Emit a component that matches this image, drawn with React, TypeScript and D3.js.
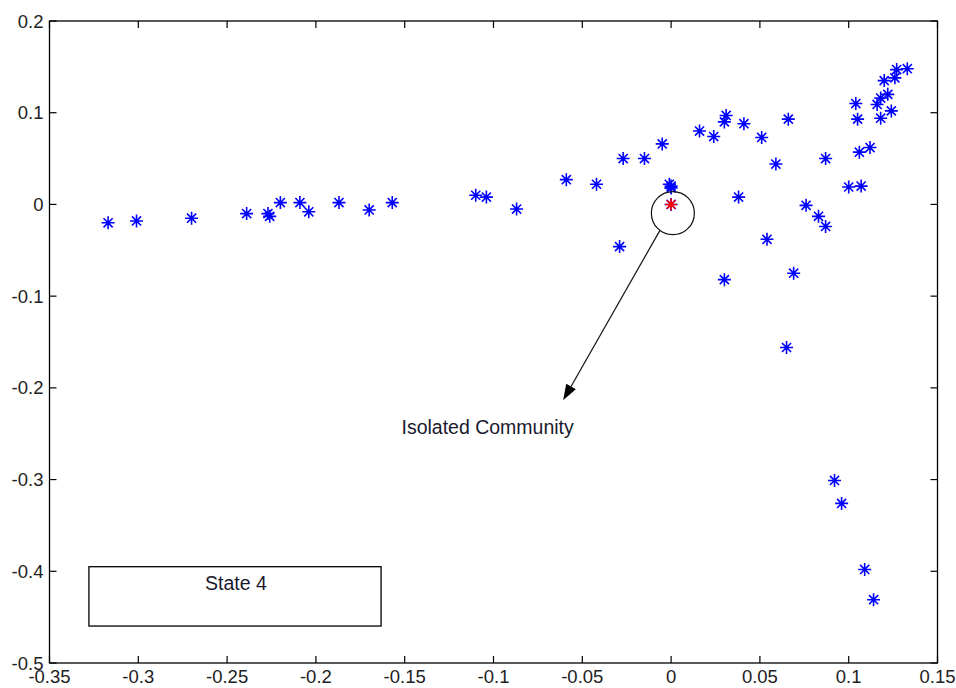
import * as d3 from 'd3';

// blue community members (x, y)
const blueX = [
  -0.317, -0.301, -0.27, -0.239, -0.227, -0.226, -0.22, -0.209, -0.204, -0.187,
  -0.17, -0.157, -0.11, -0.104, -0.087, -0.059, -0.042, -0.029, -0.027, -0.015,
  -0.005, -0.001, 0.0, 0.0, 0.0, 0.016, 0.024, 0.03, 0.031, 0.03, 0.041, 0.038,
  0.051, 0.054, 0.059, 0.066, 0.065, 0.069, 0.076, 0.083, 0.087, 0.087, 0.092,
  0.096, 0.1, 0.104, 0.105, 0.106, 0.107, 0.109, 0.112, 0.114, 0.116, 0.118,
  0.118, 0.12, 0.122, 0.124, 0.126, 0.127, 0.133,
];
const blueY = [
  -0.02, -0.018, -0.015, -0.01, -0.01, -0.013, 0.002, 0.002, -0.008, 0.002,
  -0.006, 0.002, 0.01, 0.008, -0.005, 0.027, 0.022, -0.046, 0.05, 0.05,
  0.066, 0.022, 0.02, 0.018, 0.0, 0.08, 0.074, 0.09, 0.097, -0.082, 0.088, 0.008,
  0.073, -0.038, 0.044, 0.093, -0.156, -0.075, -0.001, -0.013, -0.024, 0.05, -0.301,
  -0.326, 0.019, 0.11, 0.093, 0.057, 0.02, -0.398, 0.062, -0.431, 0.109, 0.094,
  0.116, 0.135, 0.12, 0.102, 0.138, 0.147, 0.148,
];
// the isolated node
const redX = [0.0];
const redY = [0.0];

const xTicks = [-0.35, -0.3, -0.25, -0.2, -0.15, -0.1, -0.05, 0, 0.05, 0.1, 0.15];
const yTicks = [0.2, 0.1, 0, -0.1, -0.2, -0.3, -0.4, -0.5];

const width = 956;
const height = 688;
const margin = { top: 21, right: 18.5, bottom: 25, left: 49.5 };
const font = "'Liberation Sans', Arial, sans-serif";

function starPath(cx: number, cy: number, r: number) {
  const d = r * 0.7;
  return (
    `M${cx - r},${cy}L${cx + r},${cy}M${cx},${cy - r}L${cx},${cy + r}` +
    `M${cx - d},${cy - d}L${cx + d},${cy + d}M${cx - d},${cy + d}L${cx + d},${cy - d}`
  );
}

export default function App() {
  const x = d3
    .scaleLinear()
    .domain([-0.35, 0.15])
    .range([margin.left, width - margin.right]);
  const y = d3
    .scaleLinear()
    .domain([-0.5, 0.2])
    .range([height - margin.bottom, margin.top]);

  const left = x(-0.35);
  const right = x(0.15);
  const top = y(0.2);
  const bottom = y(-0.5);
  const tickLen = 7;

  // annotations (data coordinates)
  const circle = { cx: 0.001, cy: -0.0095, rx: 0.0121, ry: 0.0235 };
  const arrowFrom = { x: -0.0062, y: -0.028 };
  const arrowTo = { x: -0.0608, y: -0.2136 };
  const x1 = x(arrowFrom.x);
  const y1 = y(arrowFrom.y);
  const x2 = x(arrowTo.x);
  const y2 = y(arrowTo.y);
  const ang = Math.atan2(y2 - y1, x2 - x1);
  const headLen = 16;
  const headW = 5.5;
  const bx = x2 - headLen * Math.cos(ang);
  const by = y2 - headLen * Math.sin(ang);
  const head = `M${x2},${y2}L${bx - headW * Math.sin(ang)},${by + headW * Math.cos(ang)}L${bx + headW * Math.sin(ang)},${by - headW * Math.cos(ang)}Z`;

  const box = { x0: -0.3278, x1: -0.1633, y0: -0.395, y1: -0.4597 };

  return (
    <svg
      width={width}
      height={height}
      style={{ position: 'absolute', left: 0, top: 0, background: '#fff' }}
    >
      {/* points */}
      <g stroke="#0000ff" strokeWidth={1.6} fill="none">
        {blueX.map((v, i) => (
          <path key={i} d={starPath(x(v), y(blueY[i]), 6.5)} />
        ))}
      </g>
      <g stroke="#ff0000" strokeWidth={1.6} fill="none">
        {redX.map((v, i) => (
          <path key={i} d={starPath(x(v), y(redY[i]), 6)} />
        ))}
      </g>

      {/* circle + arrow annotation */}
      <ellipse
        cx={x(circle.cx)}
        cy={y(circle.cy)}
        rx={x(circle.rx) - x(0)}
        ry={y(0) - y(circle.ry)}
        fill="none"
        stroke="#111"
        strokeWidth={1.2}
      />
      <line x1={x1} y1={y1} x2={bx} y2={by} stroke="#111" strokeWidth={1.2} />
      <path d={head} fill="#000" />
      <text
        x={x(-0.1033)}
        y={y(-0.2504)}
        textAnchor="middle"
        fontFamily={font}
        fontSize={19.5}
        fill="#1a1a2e"
      >
        Isolated Community
      </text>

      {/* text box */}
      <rect
        x={x(box.x0)}
        y={y(box.y0)}
        width={x(box.x1) - x(box.x0)}
        height={y(box.y1) - y(box.y0)}
        fill="none"
        stroke="#000"
        strokeWidth={1.3}
      />
      <text
        x={(x(box.x0) + x(box.x1)) / 2 + 1}
        y={y(box.y0) + 23.5}
        textAnchor="middle"
        fontFamily={font}
        fontSize={19.5}
        fill="#1a1a2e"
      >
        State 4
      </text>

      {/* axes frame with inward ticks */}
      <rect
        x={left}
        y={top}
        width={right - left}
        height={bottom - top}
        fill="none"
        stroke="#000"
        strokeWidth={1.3}
      />
      <g stroke="#000" strokeWidth={1.2}>
        {xTicks.map((t) => (
          <g key={`x${t}`}>
            <line x1={x(t)} x2={x(t)} y1={bottom} y2={bottom - tickLen} />
            <line x1={x(t)} x2={x(t)} y1={top} y2={top + tickLen} />
          </g>
        ))}
        {yTicks.map((t) => (
          <g key={`y${t}`}>
            <line x1={left} x2={left + tickLen} y1={y(t)} y2={y(t)} />
            <line x1={right} x2={right - tickLen} y1={y(t)} y2={y(t)} />
          </g>
        ))}
      </g>
      <g fontFamily={font} fontSize={18.5} fill="#222">
        {xTicks.map((t) => (
          <text key={`xl${t}`} x={x(t)} y={bottom + 20} textAnchor="middle">
            {d3.format('')(t).replace('−', '-')}
          </text>
        ))}
        {yTicks.map((t) => (
          <text key={`yl${t}`} x={left - 6} y={y(t) + 6.5} textAnchor="end">
            {d3.format('')(t).replace('−', '-')}
          </text>
        ))}
      </g>
    </svg>
  );
}
